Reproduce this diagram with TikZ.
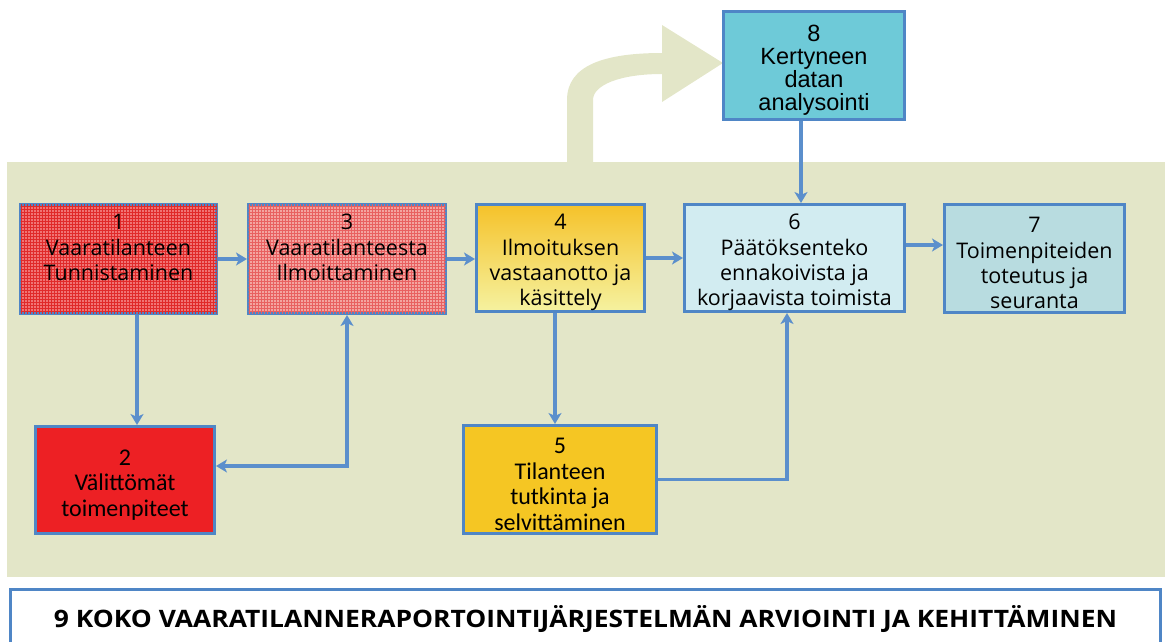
\documentclass[tikz,border=0pt]{standalone}
\usepackage{fontspec}
\setmainfont{Open Sans}
\newfontfamily\calfont{Carlito}
\newfontfamily\arialfont{Liberation Sans}
\usetikzlibrary{arrows.meta,patterns}
\definecolor{panelgreen}{HTML}{E3E6C8}
\definecolor{boxblue}{HTML}{4F86C6}
\definecolor{lineblue}{HTML}{5B8FCC}
\definecolor{redbase}{HTML}{F07474}
\definecolor{redgrid}{HTML}{E02A2A}
\definecolor{pinkbase}{HTML}{F3A4A0}
\definecolor{pinkgrid}{HTML}{E86060}
\definecolor{alarmred}{HTML}{ED2024}
\definecolor{goldtop}{HTML}{F5C22A}
\definecolor{goldbottom}{HTML}{F5F2A0}
\definecolor{gold}{HTML}{F5C623}
\definecolor{paleblue}{HTML}{D2ECF1}
\definecolor{greyblue}{HTML}{B8DCE0}
\definecolor{cyanbox}{HTML}{6ECAD8}
\newcommand\topgap{\rule{0pt}{25pt}}

\begin{document}
\begin{tikzpicture}[
    x=1pt,y=-1pt,
    box/.style={draw=boxblue,line width=3pt,align=center,inner sep=0pt,
      font=\fontsize{21.5}{25.3}\selectfont},
    calbox/.style={box,font=\calfont\fontsize{24}{25.5}\selectfont},
    conn/.style={draw=lineblue,line width=3.5pt,line join=miter,
      -{Stealth[length=11pt,width=13pt,inset=3pt]}}
    ]
    \useasboundingbox (0,0) rectangle (1165,641);
    \fill[panelgreen] (7,162) rectangle (1165,577);
    \fill[panelgreen] (567,162) -- (567,100) .. controls (567,65) and (605,53) .. (662,53)
      -- (662,25) -- (723,63) -- (662,102) -- (662,74)
      .. controls (620,74) and (593,85) .. (593,100) -- (593,162) -- cycle;
    \node[box,fill=redbase,postaction={pattern=grid,pattern color=redgrid},
      minimum width=196,minimum height=109] (b1) at (118.5,259)
      {\topgap 1\\Vaaratilanteen\\Tunnistaminen\\\strut};
    \node[box,fill=pinkbase,postaction={pattern=grid,pattern color=pinkgrid},
      minimum width=197,minimum height=109] (b3) at (347,259)
      {\topgap 3\\Vaaratilanteesta\\Ilmoittaminen\\\strut};
    \node[box,top color=goldtop,bottom color=goldbottom,
      minimum width=168,minimum height=107] (b4) at (560.5,258)
      {\topgap 4\\Ilmoituksen\\vastaanotto ja\\käsittely};
    \node[box,fill=paleblue,minimum width=220,minimum height=107] (b6) at (794.5,258)
      {\topgap 6\\Päätöksenteko\\ennakoivista ja\\korjaavista toimista};
    \node[box,fill=greyblue,minimum width=180,minimum height=108] (b7) at (1034.5,258.5)
      {\topgap 7\\Toimenpiteiden\\toteutus ja\\seuranta};
    \node[box,fill=cyanbox,font=\arialfont\fontsize{23.5}{23}\selectfont,
      minimum width=181,minimum height=108] (b8) at (814,65.5)
      {\topgap 8\\Kertyneen\\datan\\analysointi};
    \node[calbox,fill=alarmred,minimum width=179,minimum height=107] (b2) at (125,480)
      {\topgap 2\\Välittömät\\toimenpiteet};
    \node[calbox,fill=gold,minimum width=193,minimum height=108] (b5) at (560,479.5)
      {\topgap 5\\Tilanteen\\tutkinta ja\\selvittäminen};
    \node[draw=boxblue,line width=3pt,inner sep=0pt,fill=white,
      minimum width=1150,minimum height=60,
      font=\bfseries\fontsize{24}{26}\selectfont] (b9) at (585.5,619)
      {\scalebox{1.1}[1]{9 KOKO VAARATILANNERAPORTOINTIJÄRJESTELMÄN ARVIOINTI JA KEHITTÄMINEN}};
    \draw[conn] (b1) -- (b3);
    \draw[conn] (b3.east) -- (b3.east -| b4.west);
    \draw[conn] (b4.east) -- (b4.east -| b6.west);
    \draw[conn] ([yshift=13pt]b6.east) -- ([yshift=13pt]b6.east -| b7.west);
    \draw[conn] ([xshift=-13pt]b8.south) -- ([xshift=-13pt]b8.south |- b6.north);
    \draw[conn] ([xshift=18.5pt]b1.south) -- ([xshift=18.5pt]b1.south |- b2.north);
    \draw[conn,{Stealth[length=11pt,width=13pt,inset=3pt]}-{Stealth[length=11pt,width=13pt,inset=3pt]}]
      (b3.south) |- ([yshift=14pt]b2.east);
    \draw[conn] ([xshift=-5.5pt]b4.south) -- ([xshift=-5.5pt]b4.south |- b5.north);
    \draw[conn] (b5.east) -| ([xshift=-7.5pt]b6.south);
  \end{tikzpicture}
\end{document}
